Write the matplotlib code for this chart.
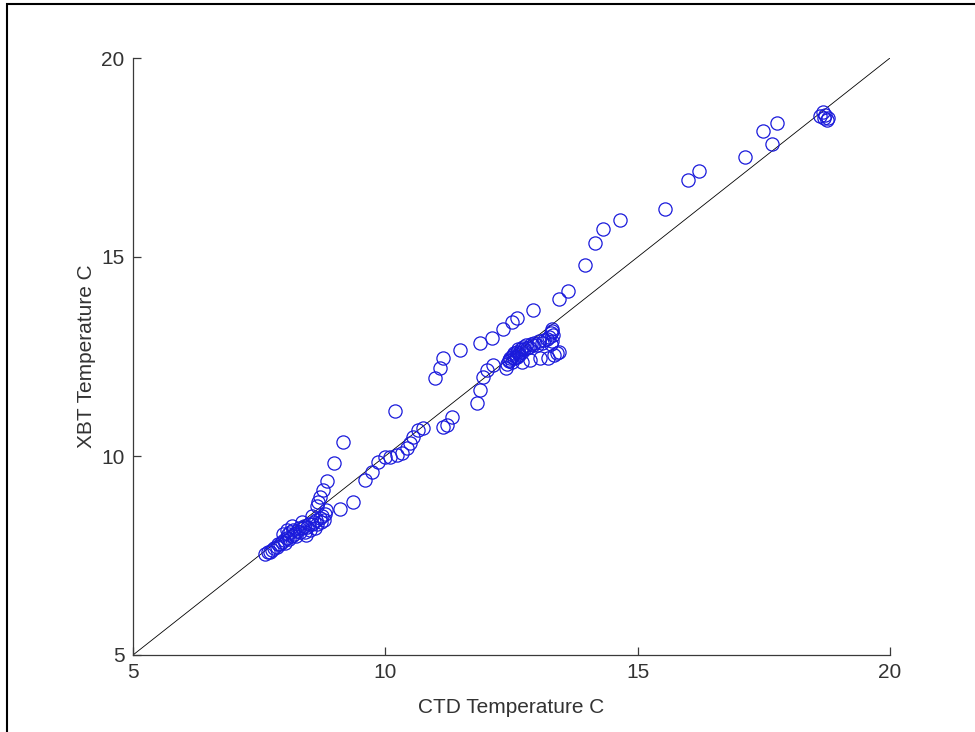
import matplotlib
matplotlib.use("Agg")
import matplotlib.pyplot as plt
from matplotlib.patches import Rectangle

plt.rcParams['font.family'] = ['Liberation Sans', 'DejaVu Sans']

# CTD vs XBT temperature pairs (deg C)
ctd = [
    # upper end
    18.62, 18.70, 18.75, 18.68, 18.78, 18.72,
    17.76, 17.48, 17.66, 17.13, 16.21, 16.00, 15.54,
    14.65, 14.31, 14.15, 13.96, 13.62, 13.44,
    # upper branch above the line
    12.93, 12.61, 12.51, 12.33, 12.11, 11.88, 11.48, 11.14, 11.08, 10.98, 10.19,
    # branch near the line 11-12
    11.82, 11.88, 11.93, 12.01, 12.13, 11.14, 11.22, 11.32,
    # dense cluster 12.4-13.4
    12.40, 12.42, 12.45, 12.48, 12.50, 12.52, 12.55, 12.58, 12.60, 12.62,
    12.65, 12.68, 12.70, 12.72, 12.75, 12.78, 12.80, 12.85, 12.88, 12.92,
    12.95, 13.00, 13.05, 13.10, 13.15, 13.20, 13.25, 13.28, 13.30, 13.30,
    13.32, 13.30, 13.28, 12.45, 12.50, 12.55, 12.60, 12.65,
    12.71, 12.87, 13.06, 13.22, 13.40, 13.35, 13.45,
    # middle 9.6-10.8
    9.60, 9.74, 9.85, 9.99, 10.09, 10.23, 10.33, 10.43, 10.49, 10.55, 10.65, 10.75,
    9.36, 9.10,
    # steep rise near 8.6-9.2
    9.16, 8.98, 8.84, 8.76, 8.71, 8.67, 8.65,
    # lower cluster
    7.62, 7.68, 7.72, 7.75, 7.80, 7.85, 7.88, 7.92, 7.95, 8.00,
    8.02, 8.05, 8.08, 8.10, 8.12, 8.15, 8.18, 8.20, 8.25, 8.28,
    8.30, 8.35, 8.38, 8.40, 8.45, 8.48, 8.50, 8.55, 8.58, 8.60,
    8.62, 8.65, 8.70, 8.72, 8.75, 8.78, 8.80, 8.82, 8.05, 8.15,
    7.98, 8.35, 8.55, 8.22, 8.42,
]
xbt = [
    18.55, 18.50, 18.45, 18.64, 18.50, 18.58,
    18.37, 18.16, 17.84, 17.51, 17.16, 16.93, 16.21,
    15.93, 15.70, 15.35, 14.80, 14.15, 13.94,
    13.67, 13.47, 13.37, 13.19, 12.96, 12.84, 12.66, 12.46, 12.21, 11.96, 11.13,
    11.33, 11.66, 11.98, 12.16, 12.29, 10.73, 10.78, 10.98,
    12.22, 12.30, 12.38, 12.45, 12.50, 12.55, 12.60, 12.50, 12.62, 12.68,
    12.55, 12.70, 12.62, 12.75, 12.68, 12.80, 12.72, 12.75, 12.82, 12.78,
    12.85, 12.80, 12.88, 12.85, 12.92, 12.95, 13.00, 13.08, 13.15, 12.90,
    13.05, 13.20, 12.82, 12.40, 12.35, 12.45, 12.48, 12.58,
    12.36, 12.41, 12.46, 12.46, 12.59, 12.55, 12.62,
    9.40, 9.60, 9.85, 9.97, 9.97, 10.03, 10.08, 10.20, 10.33, 10.48, 10.65, 10.70,
    8.84, 8.67,
    10.35, 9.82, 9.37, 9.15, 8.97, 8.84, 8.75,
    7.55, 7.60, 7.58, 7.65, 7.70, 7.72, 7.80, 7.78, 7.85, 7.90,
    7.82, 7.95, 8.05, 7.92, 8.10, 8.00, 8.15, 8.05, 8.12, 8.20,
    8.08, 8.18, 8.25, 8.10, 8.22, 8.30, 8.15, 8.28, 8.35, 8.20,
    8.40, 8.30, 8.45, 8.35, 8.50, 8.40, 8.55, 8.65, 8.15, 8.25,
    8.05, 8.35, 8.50, 7.98, 8.02,
]
lims = [5, 20]
ticks = [5, 10, 15, 20]

fig = plt.figure(figsize=(9.75, 7.32), dpi=100)
ax = fig.add_axes([133 / 975, 77 / 732, 757 / 975, 597 / 732])

ax.plot(lims, lims, color='black', lw=0.6)
ax.plot(ctd, xbt, 'o', mfc='none', mec='#1a1adb', ms=9.5, mew=0.9, clip_on=False)

ax.set_xlim(lims)
ax.set_ylim(lims)
ax.set_xticks(ticks)
ax.set_yticks(ticks)
for s in ['top', 'right']:
    ax.spines[s].set_visible(False)
for s in ['left', 'bottom']:
    ax.spines[s].set_color('#3a3a3a')
    ax.spines[s].set_linewidth(0.9)
ax.tick_params(direction='in', length=6, width=0.9, color='#3a3a3a',
               labelsize=15, labelcolor='#333333', pad=6)
ax.set_xlabel('CTD Temperature C', fontsize=15, color='#333333', labelpad=11)
ax.set_ylabel('XBT Temperature C', fontsize=15, color='#333333', labelpad=4)

# page frame around the figure
fig.patches.append(Rectangle((7 / 975, -0.1), 1.2, 1.1 - 4 / 732,
                             transform=fig.transFigure, fill=False,
                             edgecolor='black', lw=1.5))

fig.savefig('out.png', dpi=100)
